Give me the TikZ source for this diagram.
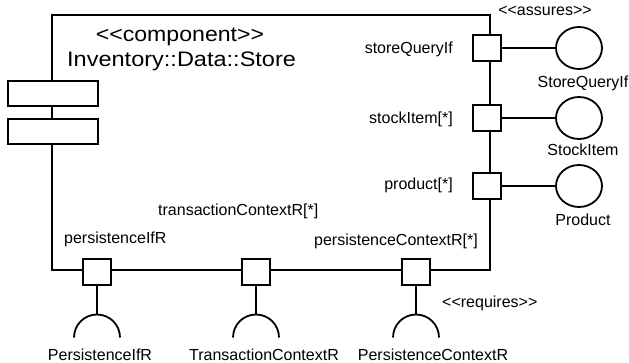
\documentclass[tikz,border=0pt]{standalone}
\usepackage{fontspec}
\setmainfont{Liberation Sans}
\usetikzlibrary{shapes.geometric}
% double angle brackets kept as two separate characters
\newcommand{\lguil}{<\kern0pt<}
\newcommand{\rguil}{>\kern0pt>}

\begin{document}
\begin{tikzpicture}[x=1pt,y=-1pt,
  edge/.style={line width=1.8pt},
  port/.style={draw, line width=1.8pt, fill=white, minimum width=28.5pt,
    minimum height=25.5pt, inner sep=0pt},
  iface/.style={draw, ellipse, line width=1.8pt, minimum width=46pt,
    minimum height=42pt, inner sep=0pt},
  compartment/.style={draw, line width=1.8pt, fill=white, minimum width=90pt,
    minimum height=25pt, inner sep=0pt, anchor=north west},
  lbl/.style={font=\fontsize{16}{18}\selectfont, inner sep=0pt,
    text height=11.5pt, text depth=0pt},
  title/.style={font=\fontsize{21}{24}\selectfont, inner sep=0pt, anchor=base}
]
\useasboundingbox (0,0) rectangle (629,363);

% component body
\node[draw, line width=1.8pt, minimum width=438pt, minimum height=255pt,
  inner sep=0pt, anchor=north west] (comp) at (51,14) {};
\node[compartment] (c1) at (7,80) {};
\node[compartment] (c2) at (7,118) {};

\node[title] (st) at (180,41.5) {\scalebox{1.1}[1]{\lguil component\rguil}};
\node[title, anchor=base west] (nm) at (67,66.5) {\scalebox{1.12}[1]{Inventory::Data::Store}};

% provided ports on the right side
\node[port] (pq) at (487,48) {};
\node[port] (ps) at (487,118) {};
\node[port] (pp) at (487,186) {};

\node[iface] (iq) at (579,48) {};
\node[iface] (is) at (579,118) {};
\node[iface] (ip) at (579,186) {};

\draw[edge] (pq.east) -- (iq.west);
\draw[edge] (ps.east) -- (is.west);
\draw[edge] (pp.east) -- (ip.west);

\node[lbl, anchor=east] (lq) at (453,48) {storeQueryIf};
\node[lbl, anchor=east] (ls) at (453,118) {stockItem[*]};
\node[lbl, anchor=east] (lp) at (453,184) {product[*]};

\node[lbl] (nq) at (583,82) {StoreQueryIf};
\node[lbl] (ns) at (583,150) {StockItem};
\node[lbl] (np) at (583,220) {Product};

\node[lbl] (as) at (545,10) {\lguil assures\rguil};

% required ports on the bottom side
\node[port] (rp) at (97,272) {};
\node[port] (rt) at (256,272) {};
\node[port] (rc) at (416,272) {};

\coordinate (sp) at (97,314.5);
\coordinate (st2) at (256,314.5);
\coordinate (sc) at (416,314.5);

\draw[edge] (rp.south) -- (sp);
\draw[edge] (rt.south) -- (st2);
\draw[edge] (rc.south) -- (sc);

\foreach \s in {sp,st2,sc}
  \draw[edge] (\s) ++(-23,23) arc[start angle=180, end angle=360, radius=23];

\node[lbl, anchor=west] (lrp) at (64,238) {persistenceIfR};
\node[lbl, anchor=west] (lrt) at (158,210) {transactionContextR[*]};
\node[lbl, anchor=east] (lrc) at (478,240) {persistenceContextR[*]};
\node[lbl, anchor=west] (rq) at (442,302) {\lguil requires\rguil};

\node[lbl] (nrp) at (100,355) {PersistenceIfR};
\node[lbl] (nrt) at (264,355) {TransactionContextR};
\node[lbl] (nrc) at (433,355) {PersistenceContextR};
\end{tikzpicture}
\end{document}
